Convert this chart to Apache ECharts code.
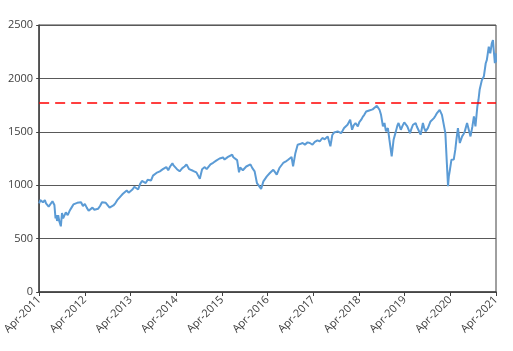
<!DOCTYPE html>
<html>
<head>
<meta charset="utf-8">
<script src="https://cdn.jsdelivr.net/npm/echarts@6/dist/echarts.min.js"></script>
<style>
  html, body { margin: 0; padding: 0; background: #fff; }
  #chart { width: 513px; height: 351px; }
</style>
</head>
<body>
<div id="chart"></div>
<script>
// months since Apr-2011 (x) and index level (y)
var months = [
  0, 0.3, 0.5, 0.8, 1, 1.3, 1.5, 1.8, 2, 2.5, 3, 3.5, 4, 4.3, 4.5, 4.7, 5, 5.3, 5.7, 6, 6.3, 6.5, 7, 7.5, 8, 8.5,
  9, 9.5, 10, 10.5, 11, 11.5, 12, 12.5, 13, 13.5, 14, 14.5, 15, 15.5, 16, 16.5, 17, 17.5,
  18, 18.5, 19, 19.5, 20, 20.5, 21, 21.5, 22, 22.5, 23, 23.5, 24, 24.5, 25, 25.5, 26, 26.5,
  27, 27.5, 28, 28.5, 29, 29.4, 29.9, 30.4, 30.8, 31.2, 31.7, 32.1, 32.5, 33, 33.4, 33.9, 34.4, 35, 35.3, 35.6, 36.2, 36.9, 37.6,
  38.2, 38.7, 39.4, 39.9, 40.4, 40.8, 41.3, 42.2, 42.8, 43.5, 44, 44.4, 45, 45.3, 45.7, 46.1, 46.5, 47, 47.4, 47.8, 48.3, 48.7, 49.2, 49.6, 50,
  50.7, 51, 51.4, 52, 52.5, 52.8, 53.1, 53.5, 54, 54.4, 54.9, 55.5, 56, 56.6, 57.2, 57.6, 58.3, 58.9, 59.3, 59.8,
  60.2, 60.6, 61, 61.5, 62, 62.4, 63.1, 63.6, 64.1, 64.7, 65.4, 65.8, 66.3, 66.7, 67.3, 67.9, 68.5, 69.2, 69.8, 70.5, 71.1, 71.8, 72.4, 73.1,
  73.7, 74.4, 75, 75.8, 76.5, 77, 77.5, 78, 78.4, 79.3, 79.7, 80.1, 80.5, 81, 81.4, 81.7, 82.2, 82.6, 83.1, 83.7, 84.1, 84.6, 85, 85.4, 85.9, 86.3,
  86.7, 87.2, 87.6, 88.1, 88.7, 89.1, 89.4, 89.8, 90.3, 90.7, 91.1, 91.6, 92, 92.6, 93.1, 93.7, 94.1, 94.4, 95,
  95.5, 95.9, 96.3, 96.7, 97.4, 97.8, 98.2, 98.9, 99.2, 99.6, 100.2, 100.8, 101.1, 101.5, 102.1, 102.8, 103.2, 103.7, 104.1, 104.5,
  105.2, 105.8, 106.3, 106.7, 107.1, 107.4, 107.6, 107.9, 108.3, 108.9, 109.3, 109.6, 110, 110.5, 111.1,
  111.5, 111.8, 112.4, 112.9, 113.3, 113.8, 114.2, 114.6, 115.1, 115.4, 115.7, 116.3, 116.8, 117.3,
  117.6, 118.1, 118.5, 118.9, 119.2, 119.4, 119.7, 119.9, 120
]
var values = [
  830, 860, 845, 865, 840, 855, 860, 830, 820, 800, 785, 850, 815, 690, 720, 665, 720, 660, 615, 740, 690, 700, 745, 720, 760, 790,
  820, 810, 835, 825, 840, 805, 825, 790, 760, 750, 790, 770, 785, 780, 805, 840, 850, 835,
  820, 790, 775, 810, 830, 860, 875, 900, 920, 935, 950, 930, 920, 960, 985, 1000, 960, 1010,
  1040, 1045, 1020, 1050, 1060, 1045, 1090, 1080, 1115, 1100, 1130, 1115, 1150, 1135, 1170, 1140, 1175, 1205, 1185, 1180, 1150, 1130, 1160,
  1175, 1195, 1150, 1165, 1135, 1150, 1120, 1060, 1150, 1170, 1150, 1160, 1195, 1180, 1210, 1200, 1230, 1215, 1250, 1235, 1260, 1240, 1245, 1265, 1270,
  1285, 1262, 1255, 1235, 1120, 1165, 1160, 1140, 1150, 1175, 1180, 1195, 1160, 1130, 1020, 1000, 965, 1036, 1050, 1083,
  1100, 1114, 1130, 1145, 1120, 1099, 1161, 1175, 1208, 1220, 1239, 1250, 1264, 1176, 1300, 1379, 1385, 1395, 1380, 1401, 1395, 1379, 1405, 1420,
  1410, 1442, 1430, 1457, 1364, 1470, 1494, 1485, 1504, 1488, 1510, 1535, 1520, 1566, 1580, 1613, 1519, 1560, 1582, 1550, 1590, 1613, 1640, 1659, 1690, 1706,
  1700, 1690, 1710, 1722, 1743, 1725, 1706, 1659, 1550, 1582, 1504, 1535, 1426, 1270, 1426, 1504, 1560, 1582, 1519,
  1560, 1588, 1570, 1550, 1488, 1530, 1566, 1582, 1550, 1519, 1473, 1582, 1540, 1504, 1535, 1597, 1580, 1628, 1650, 1675,
  1706, 1659, 1675, 1488, 1200, 990, 1080, 1145, 1239, 1240, 1330, 1426, 1535, 1395, 1457,
  1480, 1504, 1582, 1566, 1457, 1550, 1644, 1550, 1737, 1800, 1893, 1986, 2017, 2142,
  2173, 2297, 2235, 2329, 2360, 2266, 2142, 2235, 2150
]
var tickLabels = ['Apr-2011', 'Apr-2012', 'Apr-2013', 'Apr-2014', 'Apr-2015', 'Apr-2016',
  'Apr-2017', 'Apr-2018', 'Apr-2019', 'Apr-2020', 'Apr-2021']
var thresholdLevel = 1775

var chart = echarts.init(document.getElementById('chart'))
var axisColor = '#404040'
var fontFamily = '"Open Sans", sans-serif'

chart.setOption({
  animation: false,
  grid: {
    left: 39,
    right: 17,
    top: 25,
    bottom: 59,
    show: true,
    borderColor: axisColor,
    borderWidth: 1
  },
  xAxis: {
    type: 'value',
    min: 0,
    max: 120,
    interval: 12,
    axisLine: { show: true, onZero: false, lineStyle: { color: axisColor, width: 1.5 } },
    axisTick: { show: true, length: 4, lineStyle: { color: axisColor } },
    splitLine: { show: false },
    axisLabel: {
      rotate: 45,
      margin: 6,
      color: axisColor,
      fontSize: 11,
      fontFamily: fontFamily,
      formatter: function (v) {
        return tickLabels[Math.round(v / 12)]
      }
    }
  },
  yAxis: {
    type: 'value',
    min: 0,
    max: 2500,
    interval: 500,
    axisLine: { show: true, lineStyle: { color: axisColor, width: 1.5 } },
    axisTick: { show: true, length: 3, lineStyle: { color: axisColor } },
    splitLine: { show: true, lineStyle: { color: '#595959', width: 1 } },
    axisLabel: {
      margin: 6,
      color: axisColor,
      fontSize: 11,
      fontFamily: fontFamily,
      formatter: function (v) { return String(v) }
    }
  },
  series: [{
    type: 'line',
    data: months.map(function (m, i) { return [m, values[i]] }),
    showSymbol: false,
    lineStyle: { color: '#5b9bd5', width: 2 },
    itemStyle: { color: '#5b9bd5' },
    markLine: {
      silent: true,
      symbol: 'none',
      label: { show: false },
      lineStyle: { color: '#ff0000', type: [10, 6], width: 1.5 },
      data: [{ yAxis: thresholdLevel }]
    }
  }]
})
</script>
</body>
</html>
